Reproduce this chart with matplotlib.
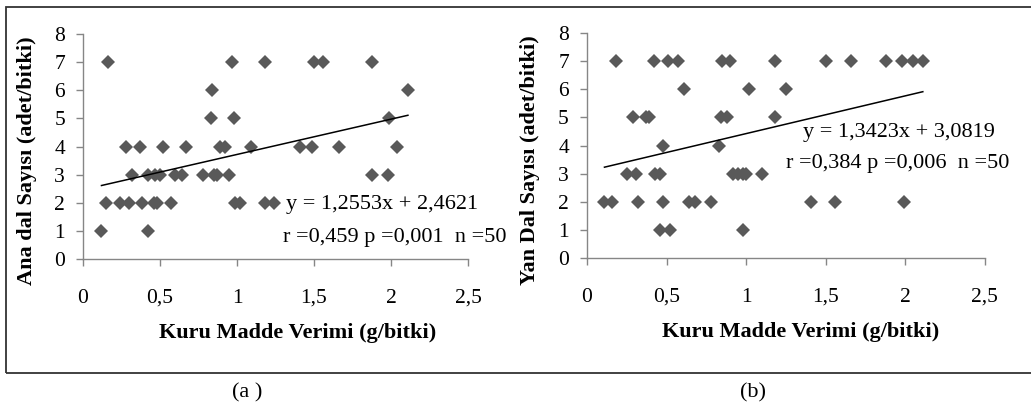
import matplotlib
matplotlib.use('Agg')
import matplotlib.pyplot as plt
from matplotlib.patches import Rectangle

plt.rcParams['font.family'] = ['Liberation Serif', 'DejaVu Serif']
plt.rcParams['xtick.direction'] = 'out'
plt.rcParams['ytick.direction'] = 'out'

# (a) main branch count vs dry matter yield
xa = [0.16, 0.97, 1.18, 1.50, 1.56, 1.88,
      0.84, 2.11,
      0.83, 0.98, 1.99,
      0.28, 0.37, 0.52, 0.67, 0.89, 0.92, 1.09, 1.41, 1.49, 1.66, 2.04,
      0.32, 0.42, 0.47, 0.50, 0.60, 0.64, 0.78, 0.85, 0.87, 0.95, 1.88, 1.98,
      0.15, 0.24, 0.30, 0.38, 0.46, 0.48, 0.57, 0.99, 1.02, 1.18, 1.24,
      0.12, 0.42]
ya = [7, 7, 7, 7, 7, 7,
      6, 6,
      5, 5, 5,
      4, 4, 4, 4, 4, 4, 4, 4, 4, 4, 4,
      3, 3, 3, 3, 3, 3, 3, 3, 3, 3, 3, 3,
      2, 2, 2, 2, 2, 2, 2, 2, 2, 2, 2,
      1, 1]

# (b) lateral branch count vs dry matter yield
xb = [0.18, 0.42, 0.51, 0.57, 0.85, 0.90, 1.18, 1.50, 1.66, 1.88, 1.98, 2.05, 2.11,
      0.61, 1.02, 1.25,
      0.29, 0.37, 0.39, 0.84, 0.88, 1.18,
      0.48, 0.83,
      0.25, 0.31, 0.43, 0.46, 0.92, 0.95, 0.98, 1.00, 1.10,
      0.11, 0.16, 0.32, 0.48, 0.64, 0.68, 0.78, 1.41, 1.56, 1.99,
      0.46, 0.52, 0.98]
yb = [7, 7, 7, 7, 7, 7, 7, 7, 7, 7, 7, 7, 7,
      6, 6, 6,
      5, 5, 5, 5, 5, 5,
      4, 4,
      3, 3, 3, 3, 3, 3, 3, 3, 3,
      2, 2, 2, 2, 2, 2, 2, 2, 2, 2,
      1, 1, 1]

# regression coefficients as printed on the chart
fit_a = (1.2553, 2.4621)
fit_b = (1.3423, 3.0819)
eq_a = ['y = 1,2553x + 2,4621', 'r =0,459 p =0,001  n =50']
eq_b = ['y = 1,3423x + 3,0819', 'r =0,384 p =0,006  n =50']

xticks = [0, 0.5, 1, 1.5, 2, 2.5]
xticklabels = ['0', '0,5', '1', '1,5', '2', '2,5']
yticks = list(range(9))

xlabel = 'Kuru Madde Verimi (g/bitki)'
ylabel_a = 'Ana dal Sayısı (adet/bitki)'
ylabel_b = 'Yan Dal Sayısı (adet/bitki)'

fs_tick = 15.5
fs_eq = 16
fs_lab = 16
gray = '#868686'
marker_col = '#595959'

fig = plt.figure(figsize=(10.31, 4.12), dpi=100)

# outer frame
fig.add_artist(Rectangle((0.0058, 0.0947), 1.1, 0.888, transform=fig.transFigure,
                         fill=False, edgecolor='#333333', linewidth=1.3))


def doPanel(rect, x, y, fit, eq, ylabel, eqpos, xlabx, ylabx):
    ax = fig.add_axes(rect)
    ax.plot(x, y, 'D', color=marker_col, markersize=7, markeredgewidth=0, clip_on=False)
    # trend line from the printed equation, over the range of the points
    x0, x1 = min(x), max(x)
    ax.plot([x0, x1], [fit[0] * x0 + fit[1], fit[0] * x1 + fit[1]], color='black', linewidth=1.1)

    ax.set_xlim(0, 2.5)
    ax.set_ylim(0, 8)
    ax.set_xticks(xticks)
    ax.set_xticklabels(xticklabels)
    ax.set_yticks(yticks)
    for s in ['top', 'right']:
        ax.spines[s].set_visible(False)
    for s in ['left', 'bottom']:
        ax.spines[s].set_color(gray)
        ax.spines[s].set_linewidth(1.0)
    ax.tick_params(axis='both', colors=gray, labelcolor='black', length=5, width=1.0, labelsize=fs_tick)
    ax.tick_params(axis='x', pad=16.5)
    ax.tick_params(axis='y', pad=8)

    ax.set_xlabel(xlabel, fontsize=fs_lab, fontweight='bold')
    ax.xaxis.set_label_coords(xlabx, -0.33)
    ax.xaxis.label.set_va('center')
    ax.set_ylabel(ylabel, fontsize=fs_lab, fontweight='bold')
    ax.yaxis.set_label_coords(ylabx, 0.436)
    ax.yaxis.label.set_va('center')

    ax.text(eqpos[0][0], eqpos[0][1], eq[0], fontsize=fs_eq, ha='left', va='center')
    ax.text(eqpos[1][0], eqpos[1][1], eq[1], fontsize=fs_eq, ha='left', va='center')
    return ax


doPanel([0.0805, 0.3714, 0.3734, 0.546], xa, ya, fit_a, eq_a, ylabel_a,
        [(1.32, 1.92), (1.30, 0.75)], 0.558, -0.145)
doPanel([0.5693, 0.3738, 0.386, 0.546], xb, yb, fit_b, eq_b, ylabel_b,
        [(1.36, 4.48), (1.25, 3.35)], 0.538, -0.143)

fig.text(247 / 1031, 19 / 412, '(a )', fontsize=fs_lab, ha='center', va='center')
fig.text(753 / 1031, 19 / 412, '(b)', fontsize=fs_lab, ha='center', va='center')

plt.savefig('out.png', dpi=100)
